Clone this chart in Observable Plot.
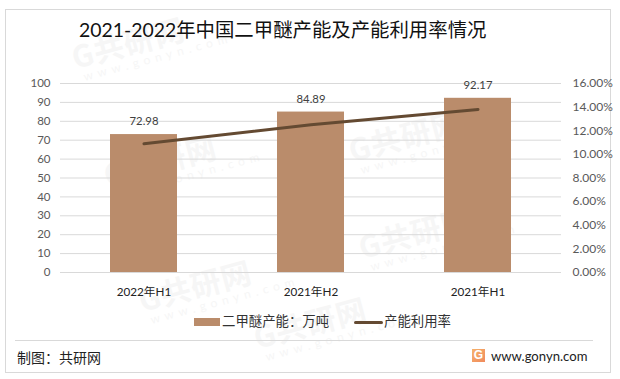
<!DOCTYPE html>
<html><head><meta charset="utf-8">
<script src="https://cdn.jsdelivr.net/npm/d3@7"></script>
<script src="https://cdn.jsdelivr.net/npm/@observablehq/plot@0.6"></script>
<style>
html,body{margin:0;padding:0;background:#fff;}
#page{position:relative;width:620px;height:379px;overflow:hidden;font-family:Lato,"Noto Sans CJK SC",sans-serif;background:#fff;}
#frame{position:absolute;left:5px;top:9px;width:604px;height:362px;border:1px solid #d9d9d9;box-sizing:content-box;}
#chart{position:absolute;left:0;top:0;}
#chart svg{background:transparent;display:block;}
.t{position:absolute;white-space:nowrap;line-height:1;}
#title{left:79px;top:20px;font-size:19.4px;color:#111;}
#sw{position:absolute;left:194px;top:318px;width:26px;height:8px;background:#ba8c6b;}
#ln{position:absolute;left:354px;top:321px;width:29px;height:3px;background:#644a32;border-radius:2px;}
#l1{left:222px;top:315px;font-size:13.4px;color:#333;}
#l2{left:384px;top:315px;font-size:13.4px;color:#333;}
#rule{position:absolute;left:15px;top:340px;width:578px;height:1px;background:#d9d9d9;}
#src{left:17px;top:351px;font-size:14px;color:#222;}
#site{left:491px;top:350px;font-size:13.1px;color:#222;}
#logo{position:absolute;left:472px;top:349px;width:13px;height:13px;background:linear-gradient(135deg,#f6b26b,#f08a5d);color:#fff;font:bold 12px/13px "Liberation Sans",sans-serif;text-align:center;}
.wm{position:absolute;color:#f6f6f6;transform:rotate(-15deg);transform-origin:left top;white-space:nowrap;line-height:1;}
.wm b{display:block;font-size:30px;font-family:"Noto Sans CJK SC",sans-serif;letter-spacing:1px;}
.wm i{display:block;font-style:normal;font-size:12px;letter-spacing:5px;margin-top:2px;margin-left:6px;}
</style></head>
<body>
<div id="page">
  <div id="marks"></div>
  <div id="frame"></div>
  <div id="chart"></div>
  <div id="title" class="t">2021-2022年中国二甲醚产能及产能利用率情况</div>
  <div id="sw"></div><div id="l1" class="t">二甲醚产能：万吨</div>
  <div id="ln"></div><div id="l2" class="t">产能利用率</div>
  <div id="rule"></div>
  <div id="src" class="t">制图：共研网</div>
  <div id="logo">G</div>
  <div id="site" class="t">www.gonyn.com</div>
</div>
<script>
const periods = ["2022年H1", "2021年H2", "2021年H1"];
const capacity = [72.98, 84.89, 92.17];
const utilization = [10.9, 12.5, 13.8];
const leftTicks = [0, 10, 20, 30, 40, 50, 60, 70, 80, 90, 100];
const rightTicks = [0, 2, 4, 6, 8, 10, 12, 14, 16];
const watermarkSpots = [[68,42],[100,160],[135,285],[345,135],[355,232],[250,322]];

const rightMax = 16, leftMax = 100;
const toLeft = r => r / rightMax * leftMax;
const toRight = v => v / leftMax * rightMax;
const rows = periods.map((p, i) => ({p, c: capacity[i], u: toLeft(utilization[i])}));

const plot = Plot.plot({
  width: 620, height: 379,
  marginTop: 83, marginBottom: 107, marginLeft: 60, marginRight: 59,
  style: {fontFamily: 'Lato,"Noto Sans CJK SC",sans-serif', background: "transparent"},
  x: {type: "band", domain: periods, paddingInner: 0.6, paddingOuter: 0.3, align: 0.5, label: null},
  y: {domain: [0, leftMax], label: null},
  marks: [
    Plot.gridY(leftTicks, {stroke: "#d9d9d9", strokeOpacity: 1, strokeWidth: 1}),
    Plot.axisY(leftTicks, {anchor: "left", tickSize: 0, tickPadding: 10, fontSize: 11.5, fill: "#595959", label: null}),
    Plot.axisY(rightTicks.map(toLeft), {anchor: "right", tickSize: 0, tickPadding: 11, fontSize: 12, fill: "#595959", label: null,
      tickFormat: v => toRight(v).toFixed(2) + "%"}),
    Plot.axisX({anchor: "bottom", tickSize: 0, tickPadding: 15, fontSize: 11.7, fill: "#222", label: null}),
    Plot.barY(rows, {x: "p", y: "c", fill: "#ba8c6b"}),
    Plot.line(rows, {x: "p", y: "u", stroke: "#644a32", strokeWidth: 3, strokeLinecap: "round"}),
    Plot.text(rows, {x: "p", y: "c", text: d => d.c.toFixed(2), dy: -13, fontSize: 11.3, fill: "#404040"})
  ]
});
document.getElementById("chart").appendChild(plot);

const marks = document.getElementById("marks");
for (const [x, y] of watermarkSpots) {
  const d = document.createElement("div");
  d.className = "wm";
  d.style.left = x + "px"; d.style.top = y + "px";
  d.innerHTML = "<b>G共研网</b><i>www.gonyn.com</i>";
  marks.appendChild(d);
}
</script>
</body></html>
